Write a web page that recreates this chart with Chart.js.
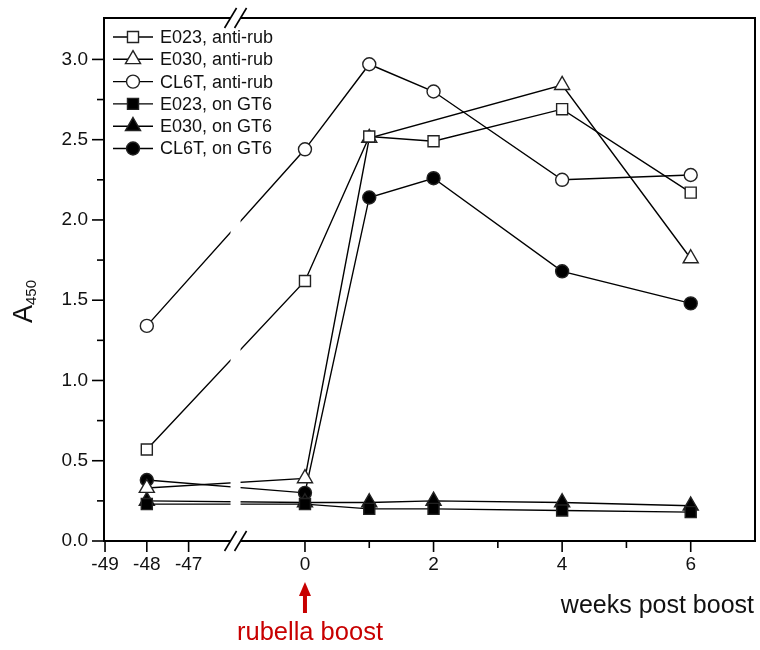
<!DOCTYPE html>
<html>
<head>
<meta charset="utf-8">
<script src="https://cdn.jsdelivr.net/npm/chart.js@4/dist/chart.umd.min.js"></script>
<style>
  body { margin: 0; background: #fff; }
  #wrap { width: 760px; height: 650px; }
</style>
</head>
<body>
<div id="wrap"><canvas id="chart" width="760" height="650"></canvas></div>
<script>
// weeks post boost (-48 = before the break)
var weeks = [-48, 0, 1, 2, 4, 6];

var e023Anti = [0.57, 1.62, 2.52, 2.49, 2.69, 2.17];
var e030Anti = [0.33, 0.39, 2.51, null, 2.84, 1.76];
var cl6tAnti = [1.34, 2.44, 2.97, 2.80, 2.25, 2.28];
var e023Gt6  = [0.23, 0.23, 0.20, 0.20, 0.19, 0.18];
var e030Gt6  = [0.25, 0.24, 0.24, 0.25, 0.24, 0.22];
var cl6tGt6  = [0.38, 0.30, 2.14, 2.26, 1.68, 1.48];

var labels = ["E023, anti-rub", "E030, anti-rub", "CL6T, anti-rub",
              "E023, on GT6", "E030, on GT6", "CL6T, on GT6"];

var xTickWeeks  = [-49, -48, -47, 0, 1, 2, 3, 4, 5, 6];
var xTickLabels = ["-49", "-48", "-47", "0", "", "2", "", "4", "", "6"];
var yTickValues = [0, 0.25, 0.5, 0.75, 1.0, 1.25, 1.5, 1.75, 2.0, 2.25, 2.5, 2.75, 3.0];

// broken axis: left part (around -48) is squeezed in front of week 0
function xpos(w) {
  if (w < -20) return -2.46 + (w + 48) * 0.65;
  return w;
}
var breakAt = -1.08;

function pts(vals) {
  return weeks.map(function (w, i) { return { x: xpos(w), y: vals[i] }; });
}

function ds(i, vals, style, r, filled) {
  return {
    label: labels[i],
    data: pts(vals),
    borderColor: '#000',
    borderWidth: 1.4,
    pointStyle: style,
    pointRadius: r,
    pointBorderWidth: 1.4,
    pointBorderColor: '#222',
    pointBackgroundColor: filled ? '#000' : '#fff',
    spanGaps: true,
    tension: 0
  };
}

var datasets = [
  ds(0, e023Anti, 'rect', 7.8, false),
  ds(1, e030Anti, 'triangle', 8.7, false),
  ds(2, cl6tAnti, 'circle', 6.5, false),
  ds(3, e023Gt6, 'rect', 7.8, true),
  ds(4, e030Gt6, 'triangle', 8.7, true),
  ds(5, cl6tGt6, 'circle', 6.5, true)
];

function marker(ctx, d, x, y) {
  ctx.save();
  ctx.fillStyle = d.pointBackgroundColor;
  ctx.strokeStyle = d.pointBorderColor;
  ctx.lineWidth = d.pointBorderWidth;
  var r = d.pointRadius;
  ctx.beginPath();
  if (d.pointStyle === 'circle') {
    ctx.arc(x, y, r, 0, Math.PI * 2);
  } else if (d.pointStyle === 'rect') {
    var s = r * Math.SQRT1_2;
    ctx.rect(x - s, y - s, 2 * s, 2 * s);
  } else {
    ctx.moveTo(x, y - r);
    ctx.lineTo(x + r * 0.866, y + r * 0.5);
    ctx.lineTo(x - r * 0.866, y + r * 0.5);
    ctx.closePath();
  }
  ctx.fill();
  ctx.stroke();
  ctx.restore();
}

var decor = {
  id: 'decor',
  beforeDatasetsDraw: function (chart) {
    var a = chart.chartArea, ctx = chart.ctx;
    ctx.save();
    ctx.strokeStyle = '#000';
    ctx.lineWidth = 2;
    ctx.strokeRect(a.left, a.top, a.right - a.left, a.bottom - a.top);
    ctx.restore();
  },
  afterDatasetsDraw: function (chart) {
    var a = chart.chartArea, ctx = chart.ctx;
    var xs = chart.scales.x, ys = chart.scales.y;
    ctx.save();

    // break gap
    var bx = xs.getPixelForValue(breakAt);
    ctx.fillStyle = '#fff';
    ctx.fillRect(bx - 5, a.top - 3, 10, a.bottom - a.top + 6);
    ctx.strokeStyle = '#000';
    ctx.lineWidth = 1.6;
    [a.top, a.bottom].forEach(function (yy) {
      [bx - 5, bx + 5].forEach(function (cx) {
        ctx.beginPath();
        ctx.moveTo(cx - 6, yy + 10);
        ctx.lineTo(cx + 6, yy - 10);
        ctx.stroke();
      });
    });

    // tick marks
    ctx.lineWidth = 1.6;
    yTickValues.forEach(function (v) {
      var py = ys.getPixelForValue(v);
      var len = (Math.round(v * 4) % 2 === 0) ? 12 : 7;
      ctx.beginPath();
      ctx.moveTo(a.left - len, py);
      ctx.lineTo(a.left, py);
      ctx.stroke();
    });
    xTickWeeks.forEach(function (w, i) {
      var px = xs.getPixelForValue(xpos(w));
      var len = xTickLabels[i] ? 11 : 7;
      ctx.beginPath();
      ctx.moveTo(px, a.bottom);
      ctx.lineTo(px, a.bottom + len);
      ctx.stroke();
    });

    // legend
    chart.data.datasets.forEach(function (d, i) {
      var ly = 37 + i * 22.3;
      ctx.strokeStyle = '#000';
      ctx.lineWidth = 1.4;
      ctx.beginPath();
      ctx.moveTo(113, ly);
      ctx.lineTo(153, ly);
      ctx.stroke();
      marker(ctx, d, 133, ly);
      ctx.fillStyle = '#111';
      ctx.font = '18px "Liberation Sans", Arial, sans-serif';
      ctx.textAlign = 'left';
      ctx.textBaseline = 'middle';
      ctx.fillText(d.label, 160, ly + 1);
    });

    // y title A450
    ctx.save();
    ctx.translate(32, 323);
    ctx.rotate(-Math.PI / 2);
    ctx.fillStyle = '#111';
    ctx.textAlign = 'left';
    ctx.textBaseline = 'alphabetic';
    ctx.font = '27px "Liberation Sans", Arial, sans-serif';
    ctx.fillText('A', 0, 0);
    var aw = ctx.measureText('A').width;
    ctx.font = '15px "Liberation Sans", Arial, sans-serif';
    ctx.fillText('450', aw, 4);
    ctx.restore();

    // x title
    ctx.fillStyle = '#111';
    ctx.font = '25px "Liberation Sans", Arial, sans-serif';
    ctx.textAlign = 'right';
    ctx.textBaseline = 'alphabetic';
    ctx.fillText('weeks post boost', 754, 613);

    // rubella boost arrow
    var x0 = xs.getPixelForValue(0);
    ctx.fillStyle = 'rgb(200,0,0)';
    ctx.fillRect(x0 - 2, 594, 4, 19);
    ctx.beginPath();
    ctx.moveTo(x0, 582);
    ctx.lineTo(x0 + 6, 596);
    ctx.lineTo(x0 - 6, 596);
    ctx.closePath();
    ctx.fill();
    ctx.font = '25.5px "Liberation Sans", Arial, sans-serif';
    ctx.textAlign = 'center';
    ctx.fillText('rubella boost', x0 + 5, 640);

    ctx.restore();
  }
};

Chart.defaults.font.family = '"Liberation Sans", Arial, sans-serif';
Chart.defaults.color = '#111';

var mychart = document.getElementById("chart").getContext('2d');
var chart = new Chart(mychart, {
  type: 'line',
  data: { datasets: datasets },
  options: {
    responsive: false,
    animation: false,
    layout: { autoPadding: false, padding: { top: 18, right: 5, left: 0, bottom: 0 } },
    plugins: { legend: { display: false }, tooltip: { enabled: false } },
    scales: {
      x: {
        type: 'linear',
        min: -3.126,
        max: 7.0,
        afterFit: function (s) { s.height = 109; s.paddingLeft = 0; s.paddingRight = 0; },
        afterBuildTicks: function (s) {
          s.ticks = xTickWeeks.map(function (w) { return { value: xpos(w) }; });
        },
        ticks: {
          autoSkip: false,
          maxRotation: 0,
          font: { size: 19 },
          padding: 1,
          callback: function (v, i) { return xTickLabels[i]; }
        },
        grid: { display: true, drawOnChartArea: false, drawTicks: true, tickLength: 11, tickColor: 'rgba(0,0,0,0)' },
        border: { display: false }
      },
      y: {
        min: 0,
        max: 3.258,
        afterFit: function (s) { s.width = 104; s.paddingTop = 0; s.paddingBottom = 0; },
        afterBuildTicks: function (s) {
          s.ticks = yTickValues.map(function (v) { return { value: v }; });
        },
        ticks: {
          autoSkip: false,
          font: { size: 19 },
          padding: 4,
          callback: function (v) { return (Math.round(v * 4) % 2 === 0) ? v.toFixed(1) : ''; }
        },
        grid: { display: true, drawOnChartArea: false, drawTicks: true, tickLength: 12, tickColor: 'rgba(0,0,0,0)' },
        border: { display: false }
      }
    }
  },
  plugins: [decor]
});
</script>
</body>
</html>
